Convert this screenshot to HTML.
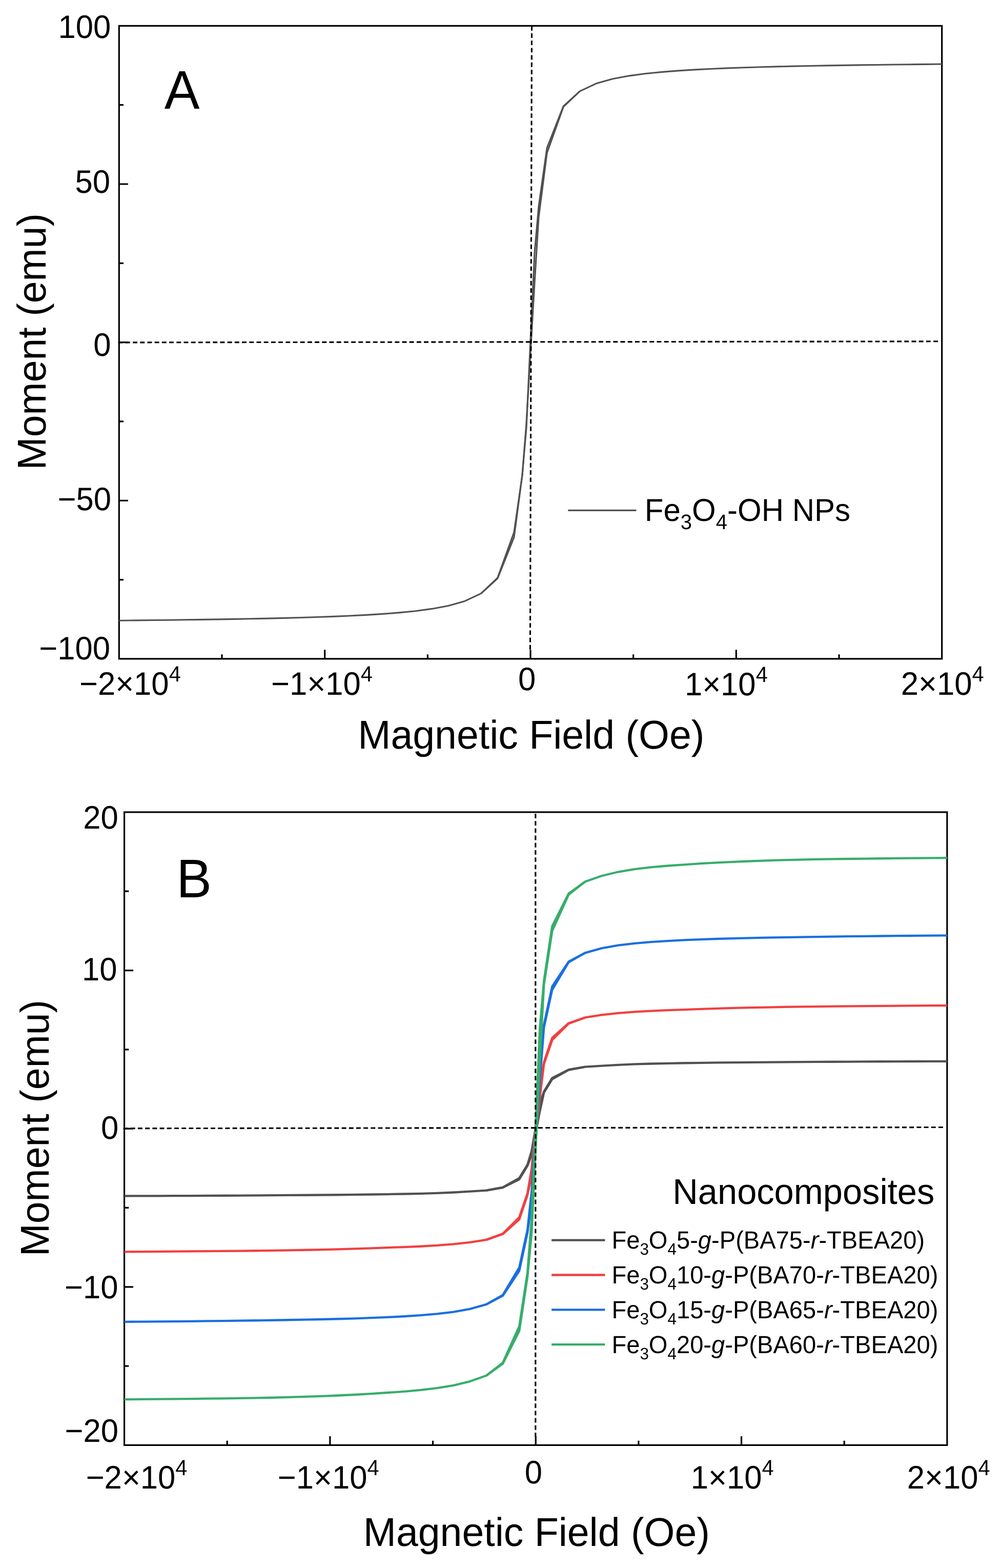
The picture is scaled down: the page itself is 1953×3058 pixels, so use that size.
<!DOCTYPE html>
<html lang="en"><head><meta charset="utf-8"><title>Magnetization curves</title>
<style>html,body{margin:0;padding:0;background:#fff}body{width:1953px;height:3058px;overflow:hidden}svg{display:block}text{font-family:'Liberation Sans',sans-serif;fill:#000;text-rendering:geometricPrecision}</style>
</head><body>
<svg width="1953" height="3058" viewBox="0 0 1953 3058">
<rect width="1953" height="3058" fill="#fff"/>
<g id="panelA">
<rect x="232.3" y="50.4" width="1605.4" height="1234.45" fill="none" stroke="#000" stroke-width="3.2"/>
<path d="M432.98 1284.85V1276.15M232.3 204.71H241M633.65 1284.85V1267.35M232.3 359.01H249.8M834.33 1284.85V1276.15M232.3 513.32H241M1035 1284.85V1267.35M232.3 667.62H249.8M1235.67 1284.85V1276.15M232.3 821.93H241M1436.35 1284.85V1267.35M232.3 976.24H249.8M1637.03 1284.85V1276.15M232.3 1130.54H241" fill="none" stroke="#000" stroke-width="3.2"/>
<g id="curvesA">
<polyline points="938.68,1157.43 970.78,1128.07 1002.89,1047.84 1018.95,926.86 1026.97,825.63 1035,687.99 1043.03,550.97 1051.05,423.2 1067.11,298.52 1099.22,208.41 1131.32,177.82" fill="none" stroke="#515151" stroke-width="3.1" stroke-linejoin="round" stroke-linecap="butt"/>
<polyline points="232.3,1210.19 264.41,1209.89 296.52,1209.57 328.62,1209.21 360.73,1208.82 392.84,1208.39 424.95,1207.92 457.06,1207.39 489.16,1206.81 521.27,1206.14 553.38,1205.4 585.49,1204.54 617.6,1203.55 649.7,1202.4 681.81,1201.03 713.92,1199.4 746.03,1197.4 778.14,1194.9 810.24,1191.69 842.35,1187.41 874.46,1181.41 906.57,1172.42 938.68,1157.43 970.78,1126.84 1002.89,1037.96 1018.95,926.86 1026.97,834.28 1035,663.3 1043.03,492.33 1051.05,402.22 1067.11,288.65 1099.22,207.18 1131.32,177.82 1163.43,162.83 1195.54,153.84 1227.65,147.84 1259.76,143.56 1291.86,140.35 1323.97,137.85 1356.08,135.85 1388.19,134.22 1420.3,132.85 1452.4,131.7 1484.51,130.71 1516.62,129.85 1548.73,129.11 1580.84,128.44 1612.94,127.86 1645.05,127.33 1677.16,126.86 1709.27,126.43 1741.38,126.04 1773.48,125.68 1805.59,125.36 1837.7,125.06" fill="none" stroke="#515151" stroke-width="3.1" stroke-linejoin="round" stroke-linecap="butt"/>
</g>
<line x1="230.7" y1="667.9" x2="1830.3" y2="665.8" stroke="#000" stroke-width="3.1" stroke-dasharray="8.9 5.3"/>
<line x1="1037.5" y1="50.8" x2="1034.4" y2="1266.7" stroke="#000" stroke-width="3.1" stroke-dasharray="8.9 5.3"/>
<text id="a_y100" transform="translate(216.3 74.17) scale(1 1.028)" font-size="61.6" text-anchor="end">100</text>
<text id="a_y50" transform="translate(214.94 376.45) scale(1 1.028)" font-size="61.6" text-anchor="end">50</text>
<text id="a_y0" transform="translate(216.5 693.98) scale(1 1.028)" font-size="61.6" text-anchor="end">0</text>
<text id="a_ym50" transform="translate(217.1 995.16) scale(1 1.028)" font-size="61.6" text-anchor="end">−50</text>
<text id="a_ym100" transform="translate(215.1 1286.27) scale(1 1.028)" font-size="61.6" text-anchor="end">−100</text>
<text id="a_xm2" transform="translate(154.91 1355.36) scale(1 1.028)" font-size="61.6" text-anchor="start">−2×10<tspan font-size="41.6" dy="-25.2">4</tspan></text>
<text id="a_xm1" transform="translate(529 1355.16) scale(1 1.028)" font-size="61.6" text-anchor="start">−1×10<tspan font-size="41.6" dy="-25.2">4</tspan></text>
<text id="a_x0" transform="translate(1028.13 1345.96) scale(1 1.028)" font-size="61.6" text-anchor="middle">0</text>
<text id="a_x1" transform="translate(1335.89 1355.56) scale(1 1.028)" font-size="61.6" text-anchor="start">1×10<tspan font-size="41.6" dy="-25.2">4</tspan></text>
<text id="a_x2" transform="translate(1757.83 1355.34) scale(1 1.028)" font-size="61.6" text-anchor="start">2×10<tspan font-size="41.6" dy="-25.2">4</tspan></text>
<text id="a_xt" transform="translate(1036.37 1459.7) scale(1 1.02)" font-size="77" text-anchor="middle">Magnetic Field (Oe)</text>
<text id="a_yt" transform="translate(89.1 666.07) rotate(-90) scale(1 1.02)" font-size="77" text-anchor="middle">Moment (emu)</text>
<text id="a_lab" transform="translate(320.64 211.82) scale(1 1.03)" font-size="103" text-anchor="start">A</text>
<line x1="1108.3" y1="995.4" x2="1241.4" y2="995.4" stroke="#515151" stroke-width="3.2"/>
<text id="a_leg" transform="translate(1257.8 1015.8) scale(1 1.03)" font-size="60" text-anchor="start">Fe<tspan font-size="40.02" dy="15.3">3</tspan><tspan dy="-15.3">O</tspan><tspan font-size="40.02" dy="15.3">4</tspan><tspan dy="-15.3">-OH NPs</tspan></text>
</g>
<g id="panelB">
<rect x="242.55" y="1583.9" width="1605.31" height="1234.5" fill="none" stroke="#000" stroke-width="3.2"/>
<path d="M443.21 2818.4V2809.7M242.55 1738.21H251.25M643.88 2818.4V2800.9M242.55 1892.53H260.05M844.54 2818.4V2809.7M242.55 2046.84H251.25M1045.2 2818.4V2800.9M242.55 2201.15H260.05M1245.87 2818.4V2809.7M242.55 2355.46H251.25M1446.53 2818.4V2800.9M242.55 2509.78H260.05M1647.2 2818.4V2809.7M242.55 2664.09H251.25" fill="none" stroke="#000" stroke-width="3.2"/>
<g id="curvesB">
<polyline points="948.89,2321.61 980.99,2316.13 1013.1,2299.99 1029.15,2273.41 1037.18,2252.15 1045.2,2209.81 1053.23,2167.46 1061.26,2130.83 1077.31,2104.63 1109.42,2086.64 1141.52,2080.69" fill="none" stroke="#515151" stroke-width="4.3" stroke-linejoin="round" stroke-linecap="butt"/>
<polyline points="242.55,2332.5 274.66,2332.4 306.76,2332.29 338.87,2332.17 370.97,2332.04 403.08,2331.89 435.19,2331.73 467.29,2331.56 499.4,2331.36 531.51,2331.15 563.61,2330.97 595.72,2330.76 627.82,2330.52 659.93,2330.24 692.04,2329.91 724.14,2329.52 756.25,2329.04 788.36,2328.49 820.46,2327.78 852.57,2326.84 884.67,2325.52 916.78,2323.71 948.89,2321.61 980.99,2315.66 1013.1,2297.67 1029.15,2271.47 1037.18,2244.97 1045.2,2198.6 1053.23,2152.23 1061.26,2128.89 1077.31,2102.31 1109.42,2086.17 1141.52,2080.69 1173.63,2078.59 1205.74,2076.78 1237.84,2075.46 1269.95,2074.52 1302.05,2073.81 1334.16,2073.26 1366.27,2072.78 1398.37,2072.39 1430.48,2072.06 1462.59,2071.78 1494.69,2071.54 1526.8,2071.33 1558.9,2071.15 1591.01,2070.94 1623.12,2070.74 1655.22,2070.57 1687.33,2070.41 1719.44,2070.26 1751.54,2070.13 1783.65,2070.01 1815.75,2069.9 1847.86,2069.8" fill="none" stroke="#515151" stroke-width="4.3" stroke-linejoin="round" stroke-linecap="butt"/>
<polyline points="948.89,2417.87 980.99,2406.83 1013.1,2378.23 1029.15,2330.6 1037.18,2292.53 1045.2,2216.66 1053.23,2140.79 1061.26,2075.16 1077.31,2028.23 1109.42,1996.3 1141.52,1984.43" fill="none" stroke="#f14040" stroke-width="4.3" stroke-linejoin="round" stroke-linecap="butt"/>
<polyline points="242.55,2441.29 274.66,2441.11 306.76,2440.91 338.87,2440.7 370.97,2440.47 403.08,2440.21 435.19,2439.92 467.29,2439.6 499.4,2439.25 531.51,2438.84 563.61,2438.34 595.72,2437.77 627.82,2437.11 659.93,2436.34 692.04,2435.43 724.14,2434.34 756.25,2433.12 788.36,2432.08 820.46,2430.74 852.57,2428.96 884.67,2426.46 916.78,2422.89 948.89,2417.87 980.99,2406 1013.1,2374.07 1029.15,2327.14 1037.18,2279.65 1045.2,2196.58 1053.23,2113.51 1061.26,2071.7 1077.31,2024.07 1109.42,1995.47 1141.52,1984.43 1173.63,1979.41 1205.74,1975.84 1237.84,1973.34 1269.95,1971.56 1302.05,1970.22 1334.16,1969.18 1366.27,1967.96 1398.37,1966.87 1430.48,1965.96 1462.59,1965.19 1494.69,1964.53 1526.8,1963.96 1558.9,1963.46 1591.01,1963.05 1623.12,1962.7 1655.22,1962.38 1687.33,1962.09 1719.44,1961.83 1751.54,1961.6 1783.65,1961.39 1815.75,1961.19 1847.86,1961.01" fill="none" stroke="#f14040" stroke-width="4.3" stroke-linejoin="round" stroke-linecap="butt"/>
<polyline points="948.89,2543.91 980.99,2526.94 1013.1,2478.45 1029.15,2403.87 1037.18,2344.24 1045.2,2225.43 1053.23,2106.62 1061.26,2003.85 1077.31,1930.36 1109.42,1876.66 1141.52,1858.39" fill="none" stroke="#1a6fdf" stroke-width="4.3" stroke-linejoin="round" stroke-linecap="butt"/>
<polyline points="242.55,2577.83 274.66,2577.6 306.76,2577.35 338.87,2577.08 370.97,2576.78 403.08,2576.45 435.19,2576.09 467.29,2575.69 499.4,2575.24 531.51,2574.76 563.61,2574.25 595.72,2573.67 627.82,2573.01 659.93,2572.23 692.04,2571.31 724.14,2570.21 756.25,2568.88 788.36,2567.27 820.46,2565.21 852.57,2562.46 884.67,2558.61 916.78,2552.93 948.89,2543.91 980.99,2525.64 1013.1,2471.94 1029.15,2398.45 1037.18,2324.08 1045.2,2194 1053.23,2063.91 1061.26,1998.43 1077.31,1923.85 1109.42,1875.36 1141.52,1858.39 1173.63,1849.37 1205.74,1843.69 1237.84,1839.84 1269.95,1837.09 1302.05,1835.03 1334.16,1833.42 1366.27,1832.09 1398.37,1830.99 1430.48,1830.07 1462.59,1829.29 1494.69,1828.63 1526.8,1828.05 1558.9,1827.54 1591.01,1827.06 1623.12,1826.61 1655.22,1826.21 1687.33,1825.85 1719.44,1825.52 1751.54,1825.22 1783.65,1824.95 1815.75,1824.7 1847.86,1824.47" fill="none" stroke="#1a6fdf" stroke-width="4.3" stroke-linejoin="round" stroke-linecap="butt"/>
<polyline points="948.89,2682.79 980.99,2659.46 1013.1,2595.88 1029.15,2489.71 1037.18,2404.84 1045.2,2235.72 1053.23,2066.59 1061.26,1920.3 1077.31,1815.68 1109.42,1744.69 1141.52,1719.51" fill="none" stroke="#37ad6b" stroke-width="4.3" stroke-linejoin="round" stroke-linecap="butt"/>
<polyline points="242.55,2729.21 274.66,2728.95 306.76,2728.68 338.87,2728.38 370.97,2728.05 403.08,2727.69 435.19,2727.29 467.29,2726.85 499.4,2726.35 531.51,2725.73 563.61,2724.89 595.72,2723.93 627.82,2722.82 659.93,2721.52 692.04,2719.99 724.14,2718.16 756.25,2716.01 788.36,2713.79 820.46,2710.93 852.57,2707.12 884.67,2701.79 916.78,2694.08 948.89,2682.79 980.99,2657.61 1013.1,2586.62 1029.15,2482 1037.18,2376.14 1045.2,2190.97 1053.23,2005.79 1061.26,1912.59 1077.31,1806.42 1109.42,1742.84 1141.52,1719.51 1173.63,1708.22 1205.74,1700.51 1237.84,1695.18 1269.95,1691.37 1302.05,1688.51 1334.16,1686.29 1366.27,1684.14 1398.37,1682.31 1430.48,1680.78 1462.59,1679.48 1494.69,1678.37 1526.8,1677.41 1558.9,1676.57 1591.01,1675.95 1623.12,1675.45 1655.22,1675.01 1687.33,1674.61 1719.44,1674.25 1751.54,1673.92 1783.65,1673.62 1815.75,1673.35 1847.86,1673.09" fill="none" stroke="#37ad6b" stroke-width="4.3" stroke-linejoin="round" stroke-linecap="butt"/>
</g>
<line x1="240.6" y1="2200.7" x2="1840.0" y2="2198.5" stroke="#000" stroke-width="3.1" stroke-dasharray="8.9 5.3"/>
<line x1="1044.8" y1="1587.0" x2="1044.8" y2="2802.6" stroke="#000" stroke-width="3.1" stroke-dasharray="8.9 5.3"/>
<text id="b_y20" transform="translate(230.66 1615.96) scale(1 1.028)" font-size="61.6" text-anchor="end">20</text>
<text id="b_y10" transform="translate(228.44 1911.56) scale(1 1.028)" font-size="61.6" text-anchor="end">10</text>
<text id="b_y0" transform="translate(231.28 2221.36) scale(1 1.028)" font-size="61.6" text-anchor="end">0</text>
<text id="b_ym10" transform="translate(230.56 2532.06) scale(1 1.028)" font-size="61.6" text-anchor="end">−10</text>
<text id="b_ym20" transform="translate(231.04 2812) scale(1 1.028)" font-size="61.6" text-anchor="end">−20</text>
<text id="b_xm2" transform="translate(167.65 2902.5) scale(1 1.028)" font-size="61.6" text-anchor="start">−2×10<tspan font-size="41.6" dy="-25.2">4</tspan></text>
<text id="b_xm1" transform="translate(541.76 2902.52) scale(1 1.028)" font-size="61.6" text-anchor="start">−1×10<tspan font-size="41.6" dy="-25.2">4</tspan></text>
<text id="b_x0" transform="translate(1040.78 2892.76) scale(1 1.028)" font-size="61.6" text-anchor="middle">0</text>
<text id="b_x1" transform="translate(1347.65 2902.9) scale(1 1.028)" font-size="61.6" text-anchor="start">1×10<tspan font-size="41.6" dy="-25.2">4</tspan></text>
<text id="b_x2" transform="translate(1769.66 2902.92) scale(1 1.028)" font-size="61.6" text-anchor="start">2×10<tspan font-size="41.6" dy="-25.2">4</tspan></text>
<text id="b_xt" transform="translate(1046.88 3015) scale(1 1.02)" font-size="77" text-anchor="middle">Magnetic Field (Oe)</text>
<text id="b_yt" transform="translate(95 2200.05) rotate(-90) scale(1 1.02)" font-size="77" text-anchor="middle">Moment (emu)</text>
<text id="b_lab" transform="translate(344.13 1749.5) scale(1 1.03)" font-size="103" text-anchor="start">B</text>
<text id="b_nano" transform="translate(1823.2 2348.1) scale(1 1.02)" font-size="68.6" text-anchor="end">Nanocomposites</text>
<line x1="1076.1" y1="2418.7" x2="1180.4" y2="2418.7" stroke="#515151" stroke-width="4.3"/>
<text id="b_leg0" transform="translate(1193.43 2435.1) scale(1 1.03)" font-size="47.1" text-anchor="start">Fe<tspan font-size="31.42" dy="12.01">3</tspan><tspan dy="-12.01">O</tspan><tspan font-size="31.42" dy="12.01">4</tspan><tspan dy="-12.01">5-<tspan font-style="italic">g</tspan>-P(BA75-<tspan font-style="italic">r</tspan>-TBEA20)</tspan></text>
<line x1="1076.1" y1="2486.5" x2="1180.4" y2="2486.5" stroke="#f14040" stroke-width="4.3"/>
<text id="b_leg1" transform="translate(1193.43 2502.9) scale(1 1.03)" font-size="47.1" text-anchor="start">Fe<tspan font-size="31.42" dy="12.01">3</tspan><tspan dy="-12.01">O</tspan><tspan font-size="31.42" dy="12.01">4</tspan><tspan dy="-12.01">10-<tspan font-style="italic">g</tspan>-P(BA70-<tspan font-style="italic">r</tspan>-TBEA20)</tspan></text>
<line x1="1076.1" y1="2554.3" x2="1180.4" y2="2554.3" stroke="#1a6fdf" stroke-width="4.3"/>
<text id="b_leg2" transform="translate(1193.43 2570.7) scale(1 1.03)" font-size="47.1" text-anchor="start">Fe<tspan font-size="31.42" dy="12.01">3</tspan><tspan dy="-12.01">O</tspan><tspan font-size="31.42" dy="12.01">4</tspan><tspan dy="-12.01">15-<tspan font-style="italic">g</tspan>-P(BA65-<tspan font-style="italic">r</tspan>-TBEA20)</tspan></text>
<line x1="1076.1" y1="2622.1" x2="1180.4" y2="2622.1" stroke="#37ad6b" stroke-width="4.3"/>
<text id="b_leg3" transform="translate(1193.43 2638.5) scale(1 1.03)" font-size="47.1" text-anchor="start">Fe<tspan font-size="31.42" dy="12.01">3</tspan><tspan dy="-12.01">O</tspan><tspan font-size="31.42" dy="12.01">4</tspan><tspan dy="-12.01">20-<tspan font-style="italic">g</tspan>-P(BA60-<tspan font-style="italic">r</tspan>-TBEA20)</tspan></text>
</g>
</svg></body></html>
